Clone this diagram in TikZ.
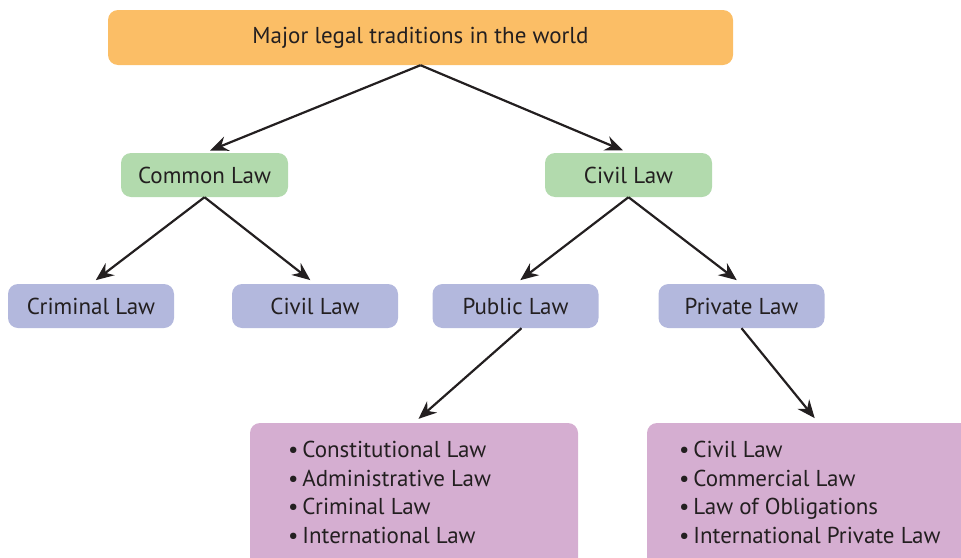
\documentclass[tikz,border=0pt]{standalone}
\usepackage{fontspec}
\setmainfont{PT Sans}
\usetikzlibrary{arrows.meta}
\definecolor{orangebox}{HTML}{FBBE66}
\definecolor{greenbox}{HTML}{B2DAAD}
\definecolor{bluebox}{HTML}{B3B8DD}
\definecolor{pinkbox}{HTML}{D5AED1}
\definecolor{inktext}{HTML}{231F20}
\begin{document}
\begin{tikzpicture}[x=1pt,y=-1pt,
  box/.style={rectangle, rounded corners=10pt, draw=none, text=inktext, font=\fontsize{23}{27}\selectfont, inner sep=0pt},
  lvlzero/.style={box, fill=orangebox, minimum width=625pt, minimum height=55pt},
  lvlone/.style={box, fill=greenbox, minimum width=167pt, minimum height=44pt},
  lvltwo/.style={box, fill=bluebox, minimum width=166pt, minimum height=44pt},
  lvlthree/.style={box, fill=pinkbox, minimum height=157pt},
  conn/.style={draw=inktext, line width=2.2pt, -{Stealth[length=18pt,width=15pt,inset=6pt]}, shorten >=6pt},
  listtext/.style={text=inktext, font=\fontsize{23}{28.5}\selectfont, align=left, anchor=north west, inner sep=0pt}
]
\clip (0,0) rectangle (961,557);
\useasboundingbox (0,0) rectangle (961,557);
\node[lvlzero] (top) at (420.5,37.5) {Major legal traditions in the world};
\node[lvlone] (common) at (204.5,175) {Common Law};
\node[lvlone] (civiltop) at (628.5,175) {Civil Law};
\node[lvltwo] (criminal) at (91,306) {Criminal Law};
\node[lvltwo] (civil) at (315,306) {Civil Law};
\node[lvltwo] (public) at (515.5,306) {Public Law};
\node[lvltwo] (private) at (741.5,306) {Private Law};
\node[lvlthree, minimum width=328pt] (publist) at (414,501.5) {};
\node[lvlthree, minimum width=343pt] (privlist) at (818.5,501.5) {};
\node[listtext] (publisttext) at (288,441) {\textbullet\,Constitutional Law\\ \textbullet\,Administrative Law\\ \textbullet\,Criminal Law\\ \textbullet\,International Law};
\node[listtext] (privlisttext) at (679,441) {\textbullet\,Civil Law\\ \textbullet\,Commercial Law\\ \textbullet\,Law of Obligations\\ \textbullet\,International Private Law};
\draw[conn] (top.south) -- (common.north);
\draw[conn] (top.south) -- (civiltop.north);
\draw[conn] (common.south) -- (criminal.north);
\draw[conn] (common.south) -- (civil.north);
\draw[conn] (civiltop.south) -- (public.north);
\draw[conn] (civiltop.south) -- (private.north);
\draw[conn] ([xshift=6pt]public.south) -- (publist.north);
\draw[conn] (private.south) -- (privlist.north);
\end{tikzpicture}
\end{document}
